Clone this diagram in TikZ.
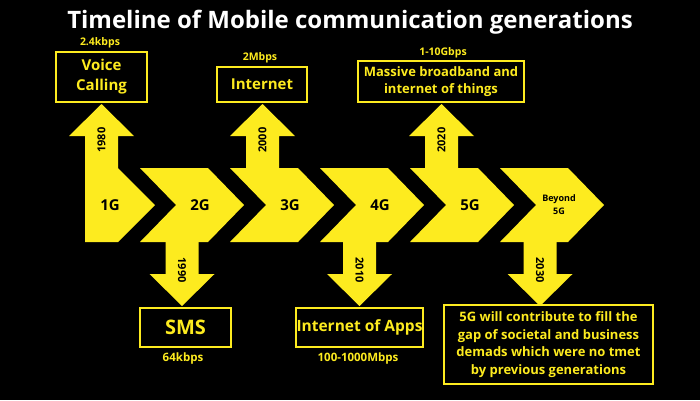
\documentclass[tikz,border=0pt]{standalone}
\usepackage{fontspec}
\setmainfont{Open Sans}
\definecolor{sun}{HTML}{FDEB1F}
\begin{document}
\begin{tikzpicture}[x=1pt,y=-1pt,
  solid shape/.style={fill=sun},
  fsz/.style n args={2}{font=\bfseries\fontsize{#1}{#2}\selectfont},
  rate/.style={text=sun,inner sep=0pt,fsz={10.5}{12}},
  rate low/.style={text=sun,inner sep=0pt,fsz={11.5}{13}},
  gen/.style={text=black,inner sep=0pt,fsz={15}{17}},
  year up/.style={text=black,inner sep=0pt,rotate=90,fsz={11}{12}},
  year down/.style={text=black,inner sep=0pt,rotate=-90,fsz={11}{12}},
  infobox/.style={draw=sun,line width=1.6pt,text=sun,align=center,inner sep=0pt}
]
% background
\fill[black] (0,0) rectangle (700,400);
\useasboundingbox (0,0) rectangle (700,400);

% title
\node[text=white,inner sep=0pt,fsz={24}{28}] (title) at (350,22) {Timeline of Mobile communication generations};

% first generation block (flat left edge)
\fill[solid shape] (85,168) -- (118,168) -- (155,205) -- (118,242) -- (85,242) -- cycle;
% chevrons for later generations
\foreach \x in {140,230,320,410,500}
  \fill[solid shape] (\x,168) -- (\x+68,168) -- (\x+104,205) -- (\x+68,242) -- (\x,242) -- (\x+36,205) -- cycle;

% upward arrows
\foreach \c in {101.5,262.5,441.5}
  \fill[solid shape] (\c-16.5,168) -- (\c-16.5,136) -- (\c-32.5,136) -- (\c,104) -- (\c+32.5,136) -- (\c+16.5,136) -- (\c+16.5,168) -- cycle;
% downward arrows
\foreach \c in {182,359.5,540}
  \fill[solid shape] (\c-16.5,242) -- (\c-16.5,274) -- (\c-32.5,274) -- (\c,306) -- (\c+32.5,274) -- (\c+16.5,274) -- (\c+16.5,242) -- cycle;

% generation labels
\node[gen] (g1) at (110,205) {1G};
\node[gen] (g2) at (200,205) {2G};
\node[gen] (g3) at (290,205) {3G};
\node[gen] (g4) at (380,205) {4G};
\node[gen] (g5) at (470,205) {5G};
\node[text=black,inner sep=0pt,align=center,fsz={9}{13}] (g6) at (559,205) {Beyond\\5G};

% years
\node[year up] (y1980) at (101.5,140) {1980};
\node[year up] (y2000) at (262.5,140) {2000};
\node[year up] (y2020) at (441.5,140) {2020};
\node[year down] (y1990) at (182,270) {1990};
\node[year down] (y2010) at (359.5,270) {2010};
\node[year down] (y2030) at (540,270) {2030};

% milestone boxes above
\node[infobox,minimum width=91pt,minimum height=50pt,fsz={15}{20}] (voice) at (101.5,77) {Voice\\Calling};
\node[infobox,minimum width=90pt,minimum height=35pt,fsz={15}{18}] (internet) at (262,84.5) {Internet};
\node[infobox,minimum width=166pt,minimum height=41pt,fsz={13}{17}] (massive) at (441,81.5) {Massive broadband and\\internet of things};

% milestone boxes below
\node[infobox,minimum width=91pt,minimum height=39pt,fsz={20}{22}] (sms) at (185.5,327.5) {SMS};
\node[infobox,minimum width=127pt,minimum height=39pt,fsz={15.5}{20}] (apps) at (359.5,327.5) {Internet of Apps};
\node[infobox,minimum width=209pt,minimum height=79pt,fsz={13}{17.7}] (beyond) at (548.5,344.5) {5G will contribute to fill the\\gap of societal and business\\demads which were no tmet\\by previous generations};

% data rates
\node[rate] (r1) at (100,43) {2.4kbps};
\node[rate] (r3) at (260,58) {2Mbps};
\node[rate] (r5) at (443,53) {1-10Gbps};
\node[rate low] (r2) at (183,359) {64kbps};
\node[rate low] (r4) at (358,359) {100-1000Mbps};
\end{tikzpicture}
\end{document}
